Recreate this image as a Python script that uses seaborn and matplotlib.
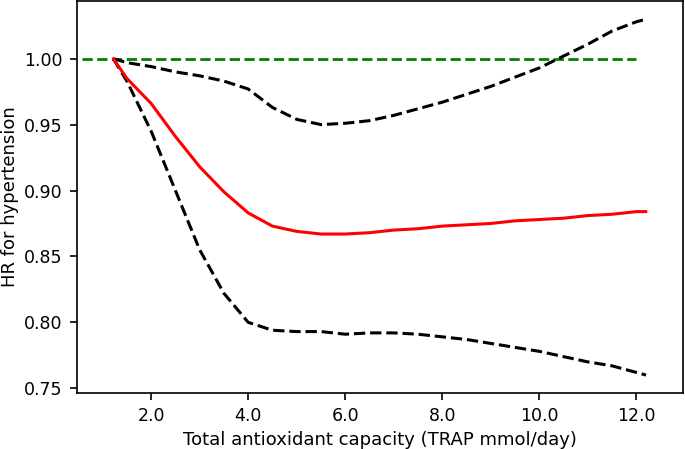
import numpy as np
import pandas as pd
import matplotlib
matplotlib.use('Agg')
import matplotlib.pyplot as plt
import seaborn as sns

# 데이터
trap = [1.22, 1.5, 2.0, 2.5, 3.0, 3.5, 4.0, 4.5, 5.0, 5.5, 6.0, 6.5, 7.0, 7.5,
        8.0, 8.5, 9.0, 9.5, 10.0, 10.5, 11.0, 11.5, 12.0, 12.2]
hr = [1.000, 0.985, 0.966, 0.941, 0.918, 0.899, 0.883, 0.873, 0.869, 0.867,
      0.867, 0.868, 0.870, 0.871, 0.873, 0.874, 0.875, 0.877, 0.878, 0.879,
      0.881, 0.882, 0.884, 0.884]
hr_upper = [1.000, 0.997, 0.994, 0.990, 0.987, 0.983, 0.977, 0.963, 0.954, 0.950,
            0.951, 0.953, 0.957, 0.962, 0.967, 0.973, 0.979, 0.986, 0.993, 1.002,
            1.011, 1.021, 1.028, 1.030]
hr_lower = [1.000, 0.983, 0.945, 0.900, 0.855, 0.822, 0.800, 0.794, 0.793, 0.793,
            0.791, 0.792, 0.792, 0.791, 0.789, 0.787, 0.784, 0.781, 0.778, 0.774,
            0.770, 0.767, 0.762, 0.760]
ref_x = [0.58, 12.0]
ref_y = [1.0, 1.0]

df = pd.DataFrame({'trap': trap, 'hr': hr, 'upper': hr_upper, 'lower': hr_lower})

sns.set_style('ticks', {'axes.edgecolor': 'black', 'text.color': 'black',
                        'axes.labelcolor': 'black', 'xtick.color': 'black',
                        'ytick.color': 'black'})
plt.rcParams['font.family'] = ['DejaVu Sans']

fig, ax = plt.subplots(figsize=(6.85, 4.49), dpi=100)

sns.lineplot(x=ref_x, y=ref_y, color='green', linestyle='--', linewidth=2, ax=ax)
sns.lineplot(data=df, x='trap', y='upper', color='black', linestyle='--', linewidth=2.2, ax=ax)
sns.lineplot(data=df, x='trap', y='lower', color='black', linestyle='--', linewidth=2.2, ax=ax)
sns.lineplot(data=df, x='trap', y='hr', color='red', linewidth=2.2, ax=ax)

ax.set_xlim(0.48, 12.96)
ax.set_xticks([2, 4, 6, 8, 10, 12])
ax.set_xticklabels(['2.0', '4.0', '6.0', '8.0', '10.0', '12.0'])
ax.set_yticks([0.75, 0.80, 0.85, 0.90, 0.95, 1.00])
ax.set_yticklabels(['0.75', '0.80', '0.85', '0.90', '0.95', '1.00'])
ax.tick_params(labelsize=12.5, length=5, width=1.2, pad=5.5, color='black')
for s in ax.spines.values():
    s.set_linewidth(1.2)
    s.set_color('black')

ax.set_xlabel('Total antioxidant capacity (TRAP mmol/day)', fontsize=13)
ax.set_ylabel('HR for hypertension', fontsize=13)

fig.subplots_adjust(left=0.113, right=0.997, bottom=0.125, top=0.997)
plt.savefig('out.png', dpi=100)
